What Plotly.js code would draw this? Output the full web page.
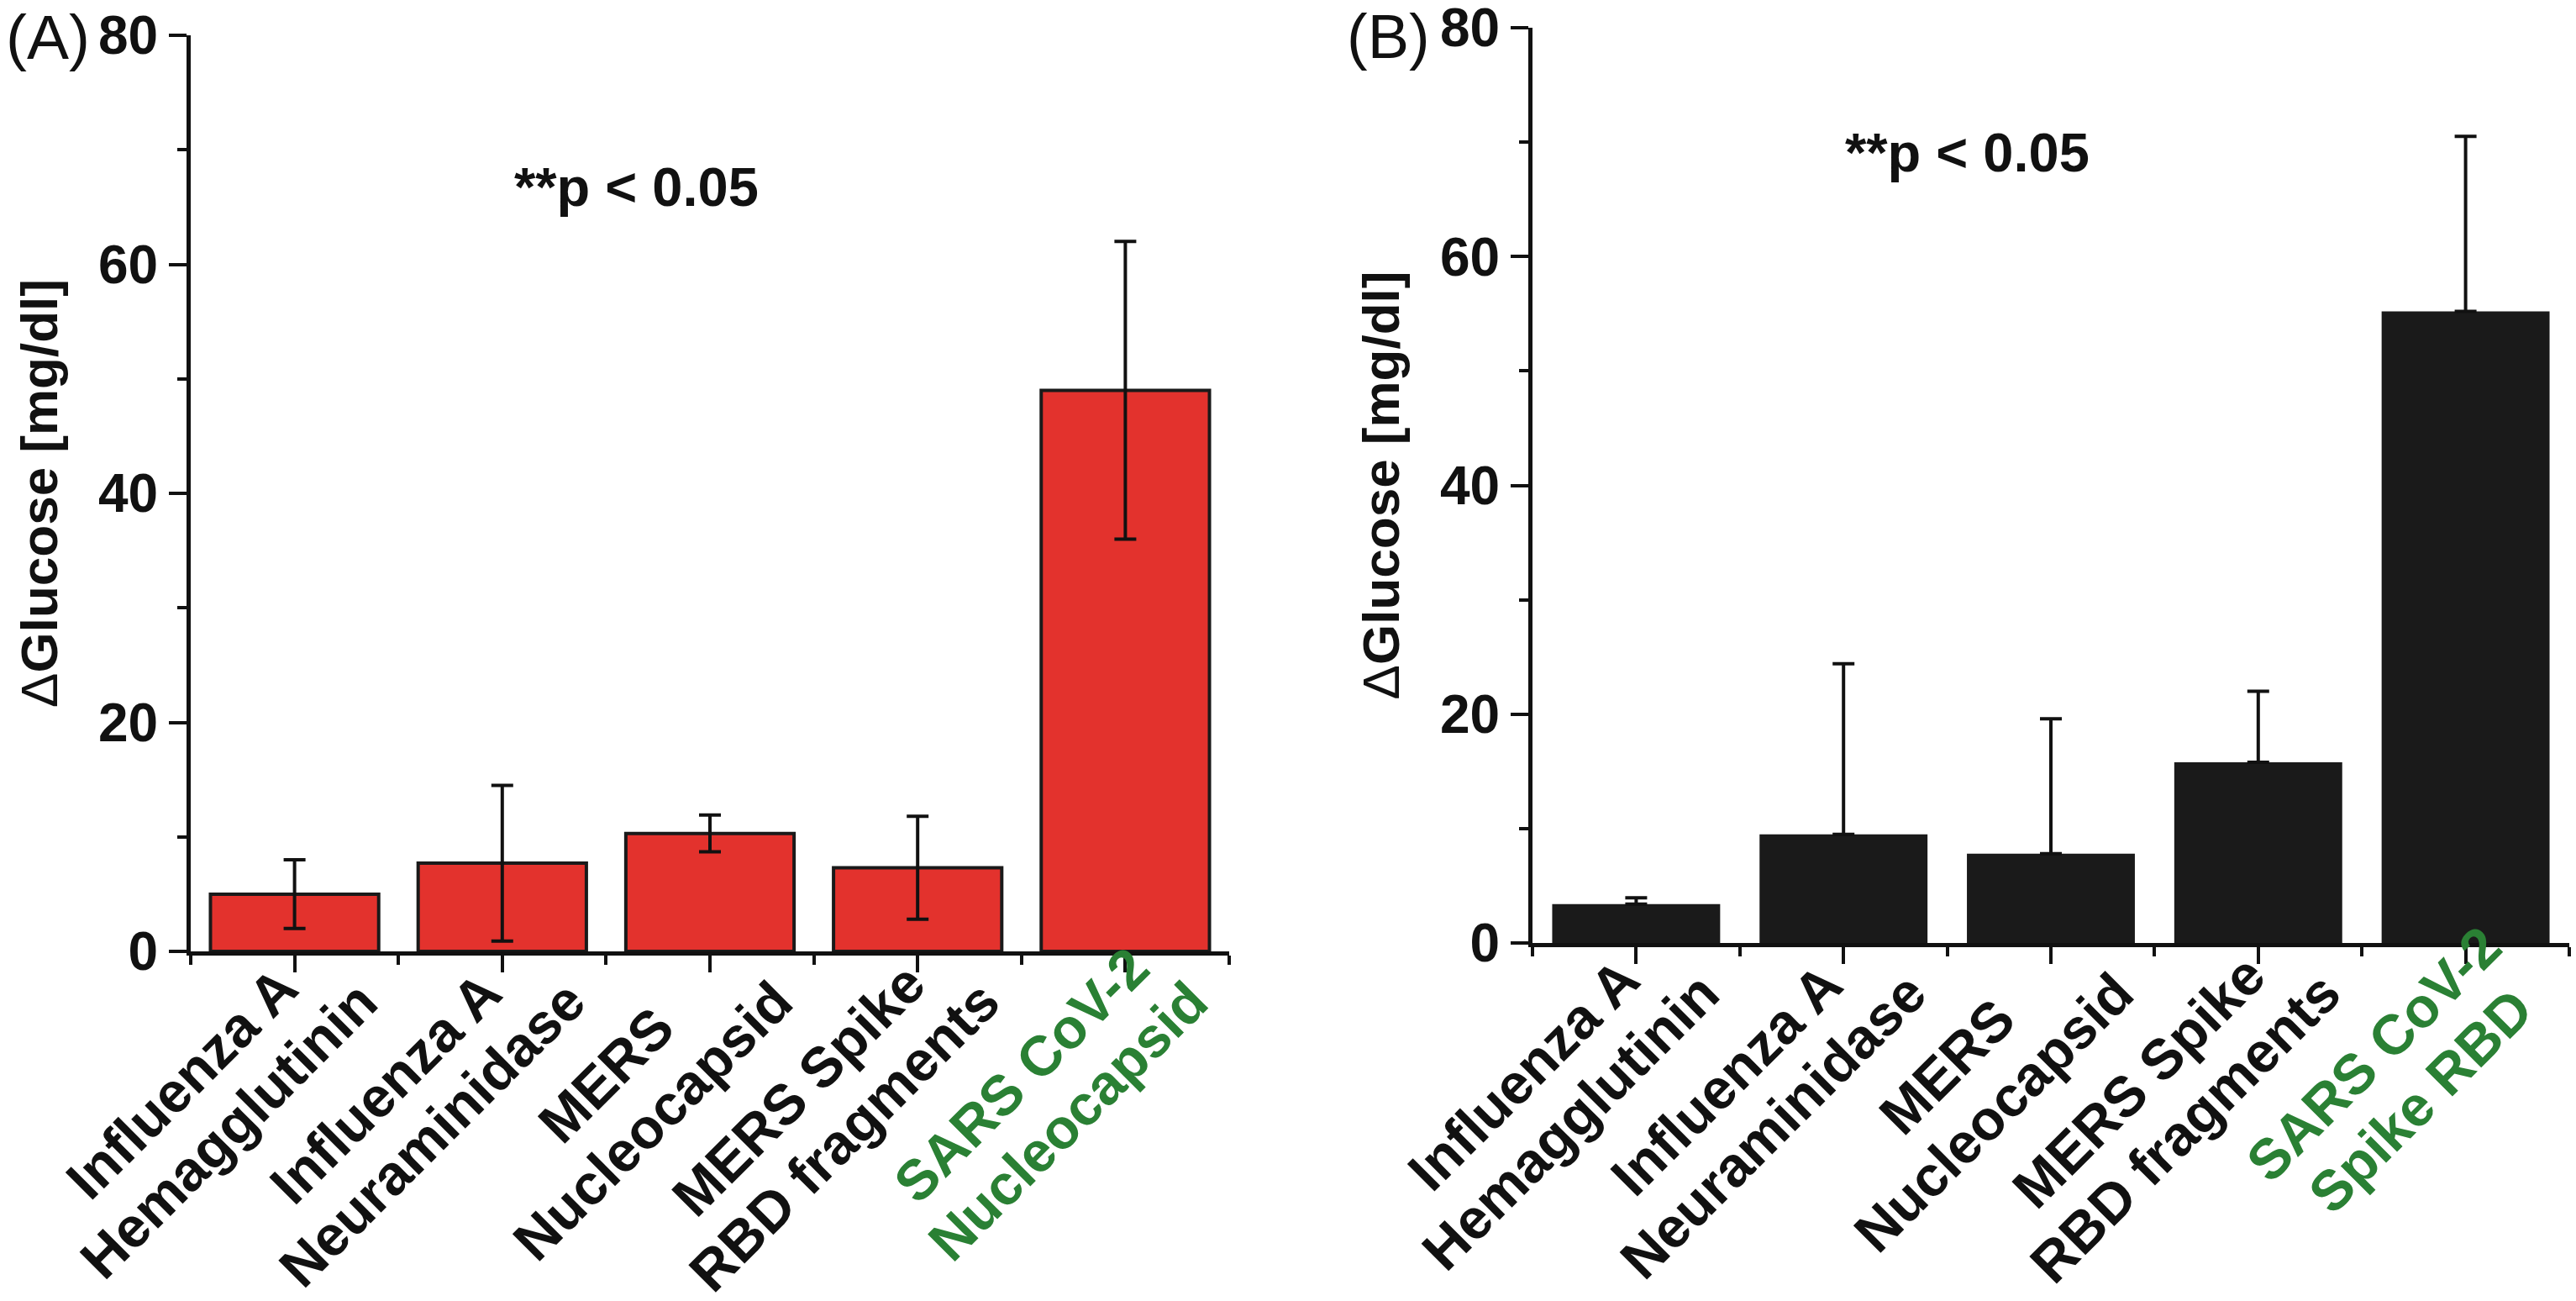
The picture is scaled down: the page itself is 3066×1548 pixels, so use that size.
<!DOCTYPE html>
<html>
<head>
<meta charset="utf-8">
<script src="https://cdn.plot.ly/plotly-3.0.1.min.js"></script>
<style>
  html, body { margin: 0; padding: 0; background: #ffffff; }
  #chart { width: 3066px; height: 1548px; }
</style>
</head>
<body>
<div id="chart"></div>
<script>
// ---- Data ----
const categoriesA = [
  'Influenza A<br>Hemagglutinin',
  'Influenza A<br>Neuraminidase',
  'MERS<br>Nucleocapsid',
  'MERS Spike<br>RBD fragments',
  'SARS CoV-2<br>Nucleocapsid'
];
const valuesA = [5.0, 7.7, 10.3, 7.3, 49.0];
const errorsA = [3.0, 6.8, 1.6, 4.5, 13.0];

const categoriesB = [
  'Influenza A<br>Hemagglutinin',
  'Influenza A<br>Neuraminidase',
  'MERS<br>Nucleocapsid',
  'MERS Spike<br>RBD fragments',
  'SARS CoV-2<br>Spike RBD'
];
const valuesB = [3.4, 9.5, 7.8, 15.8, 55.2];
const errorsB = [0.55, 14.9, 11.8, 6.2, 15.3];

const highlightIndex = 4;          // the SARS CoV-2 category (green label)
const yTickVals = [0, 20, 40, 60, 80];
const yTitleText = '<span style="font-weight:normal">Δ</span>Glucose [mg/dl]';
const pText = '**p < 0.05';

// ---- Styling ----
const RED = 'rgb(227,50,45)';
const BLACK_BAR = 'rgb(26,26,26)';
const GREEN = 'rgb(42,128,52)';
const AX = '#111111';
const FONT = 'Liberation Sans, Arial, sans-serif';
const LABEL_SIZE = 67;
const LINE_SP = 78;          // distance between the two lines of a category label
const LBL_DX = 58, LBL_DY = 20; // right-edge middle of a label block, relative to the tick foot

const xsA = categoriesA.map((_, i) => i);
const xsB = categoriesB.map((_, i) => i);

const traceA = {
  type: 'bar', x: xsA, y: valuesA, xaxis: 'x', yaxis: 'y',
  marker: { color: RED, line: { color: '#1a1a1a', width: 4 } },
  error_y: { type: 'data', array: errorsA, visible: true, color: '#111', thickness: 4, width: 13 },
  hoverinfo: 'skip', showlegend: false
};
const traceB = {
  type: 'bar', x: xsB, y: valuesB, xaxis: 'x2', yaxis: 'y2',
  marker: { color: BLACK_BAR, line: { color: BLACK_BAR, width: 0 } },
  error_y: { type: 'data', symmetric: false, array: errorsB, arrayminus: errorsB.map(() => 0),
             visible: true, color: '#111', thickness: 4, width: 13 },
  hoverinfo: 'skip', showlegend: false
};

function xAxis(domain, cats, anchor) {
  return {
    domain: domain, anchor: anchor, range: [-0.5, 4.5], type: 'linear',
    tickmode: 'array', tickvals: cats.map((_, i) => i), showticklabels: false,
    ticks: 'outside', ticklen: 20, tickwidth: 4, tickcolor: AX,
    minor: { tickmode: 'linear', tick0: 0.5, dtick: 1, ticks: 'outside', ticklen: 11, tickwidth: 4, tickcolor: AX },
    showline: true, linecolor: AX, linewidth: 5, showgrid: false, zeroline: false,
    fixedrange: true, automargin: false
  };
}
function yAxis(domain, anchor) {
  return {
    domain: domain, anchor: anchor, range: [0, 80],
    tickmode: 'array', tickvals: yTickVals, ticktext: yTickVals.map(String),
    ticks: 'outside', ticklen: 21, tickwidth: 4, tickcolor: AX,
    ticklabeloverflow: 'allow',
    tickfont: { family: FONT, size: 64, color: '#111', weight: 'bold' },
    minor: { tickmode: 'linear', tick0: 0, dtick: 10, ticks: 'outside', ticklen: 11, tickwidth: 4, tickcolor: AX },
    showline: true, linecolor: AX, linewidth: 5, showgrid: false, zeroline: false,
    title: { text: yTitleText, font: { family: FONT, size: 62, color: '#111', weight: 'bold' }, standoff: 30 },
    fixedrange: true, automargin: false
  };
}

// Category labels: two centred lines, rotated 45°, placed relative to each tick
const measureCtx = document.createElement('canvas').getContext('2d');
measureCtx.font = 'bold ' + LABEL_SIZE + 'px "Liberation Sans"';
function labelAnnotations(cats, xref, yref) {
  const out = [];
  const c = Math.SQRT1_2;
  cats.forEach((cat, i) => {
    const lines = cat.split('<br>');
    const w = Math.max(...lines.map(l => measureCtx.measureText(l).width));
    const cbx = LBL_DX - (w / 2) * c;
    const cby = LBL_DY + (w / 2) * c;
    lines.forEach((ln, k) => {
      const off = (k - (lines.length - 1) / 2) * LINE_SP;
      out.push({
        text: ln, xref: xref, yref: yref, x: i, y: 0,
        xanchor: 'center', yanchor: 'middle', textangle: -45,
        xshift: cbx + off * c, yshift: -(cby + off * c),
        showarrow: false,
        font: { family: FONT, size: LABEL_SIZE, weight: 'bold', color: i === highlightIndex ? GREEN : '#111' }
      });
    });
  });
  return out;
}

const W = 3066, H = 1548;
const layout = {
  width: W, height: H,
  margin: { l: 0, r: 0, t: 0, b: 0 },
  paper_bgcolor: '#ffffff', plot_bgcolor: 'rgba(0,0,0,0)',
  bargap: 0.19,
  xaxis: xAxis([227 / W, 1463 / W], categoriesA, 'y'),
  yaxis: yAxis([1 - 1132 / H, 1 - 42 / H], 'x'),
  xaxis2: xAxis([1824 / W, 3058 / W], categoriesB, 'y2'),
  yaxis2: yAxis([1 - 1122 / H, 1 - 33 / H], 'x2'),
  annotations: [
    { text: '(A)', xref: 'paper', yref: 'paper', x: 57 / W, y: 1, xanchor: 'center', yanchor: 'top',
      showarrow: false, font: { family: FONT, size: 75, color: '#111' } },
    { text: '(B)', xref: 'paper', yref: 'paper', x: 1652 / W, y: 1, xanchor: 'center', yanchor: 'top',
      showarrow: false, font: { family: FONT, size: 74, color: '#111' } },
    { text: pText, xref: 'paper', yref: 'paper', x: 757 / W, y: 1 - 222 / H, xanchor: 'center', yanchor: 'middle',
      showarrow: false, font: { family: FONT, size: 65, color: '#111', weight: 'bold' } },
    { text: pText, xref: 'paper', yref: 'paper', x: 2341 / W, y: 1 - 181 / H, xanchor: 'center', yanchor: 'middle',
      showarrow: false, font: { family: FONT, size: 65, color: '#111', weight: 'bold' } }
  ].concat(labelAnnotations(categoriesA, 'x', 'y domain'), labelAnnotations(categoriesB, 'x2', 'y2 domain'))
};

Plotly.newPlot('chart', [traceA, traceB], layout, { displayModeBar: false, staticPlot: true });
</script>
</body>
</html>
